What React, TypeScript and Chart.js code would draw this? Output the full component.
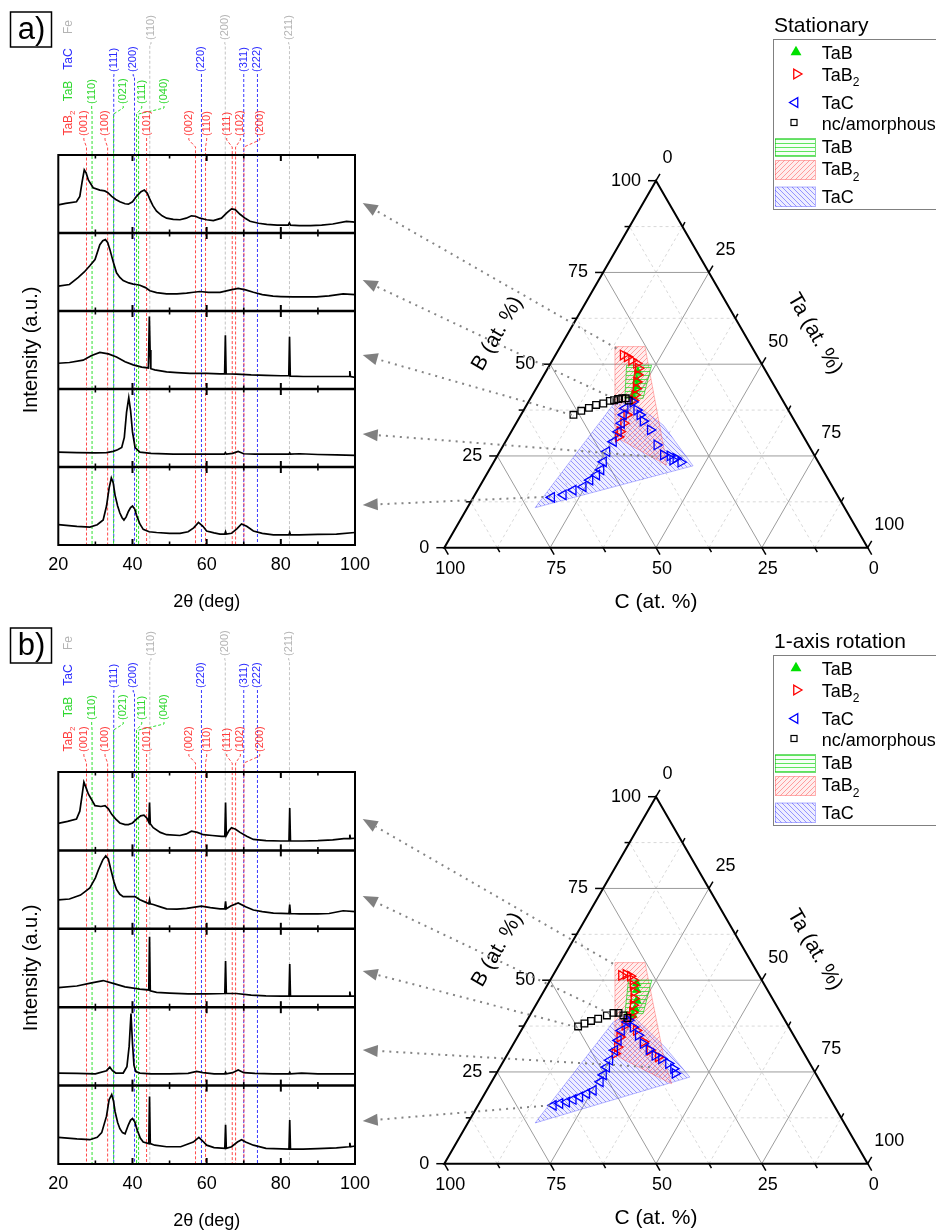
import React, { useEffect, useRef } from 'react';
import { Chart, registerables } from 'chart.js';
Chart.register(...registerables);

const FF = '"Liberation Sans", Arial, Helvetica, sans-serif';
const SQ3 = Math.sqrt(3) / 2;

// ---------- XRD axis ----------
const xrdTickLabels = [20, 40, 60, 80, 100];
const xrdMinorTicks = [30, 50, 70, 90];

// ---------- reference reflections ----------
const feLines = [44.67, 65.02, 82.33];
const feLabelPos = [45.0, 64.9, 82.1];
const feHkl = ['(110)', '(200)', '(211)'];
const tacLines = [34.95, 40.55, 58.6, 70.0, 73.7];
const tacLabelPos = [35.0, 40.2, 58.6, 70.0, 73.7];
const tacHkl = ['(111)', '(200)', '(220)', '(311)', '(222)'];
const tabLines = [29.1, 34.9, 41.1, 41.65];
const tabLabelPos = [29.0, 37.5, 42.5, 48.5];
const tabHkl = ['(110)', '(021)', '(111)', '(040)'];
const tab2Lines = [27.6, 33.3, 43.8, 57.0, 59.7, 66.9, 67.8, 70.05];
const tab2LabelPos = [26.9, 32.6, 43.8, 55.2, 60.0, 65.4, 69.1, 74.3];
const tab2Hkl = ['(001)', '(100)', '(101)', '(002)', '(110)', '(111)', '(102)', '(200)'];

// ---------- XRD patterns, panel a (stationary) ----------
const a1_tt = [20, 22, 24.9, 25.8, 26.4, 27.0, 27.5, 28.1, 29.4, 31.2, 32.5, 33.3, 34.4, 35.5, 36.6, 38.0, 38.9, 40.0, 41.1, 42.3, 43.2, 44.0, 44.7, 45.5, 46.5, 48.0, 49.2, 51.0, 52.8, 54.5, 55.9, 57.0, 58.2, 60.0, 61.8, 64.0, 65.5, 66.7, 67.7, 69.0, 70.5, 71.7, 74.0, 76.2, 79.0, 82.0, 82.3, 82.6, 85.0, 88.0, 91.0, 94.0, 97.7, 100];
const a1_I = [36, 38, 40, 47, 65, 81, 77, 68, 58, 55, 54, 52, 47, 43, 40, 37.5, 37, 40, 47, 53, 55, 51, 43, 35, 28, 22, 19, 17.5, 17, 19, 22, 21.5, 19, 17, 16, 19, 26, 31, 30, 24, 18.5, 15, 12.5, 11, 10, 10, 13, 10, 9.5, 9.5, 10, 11.5, 15, 14];
const a2_tt = [20, 23, 25.4, 27.0, 28.5, 29.9, 31.2, 32.0, 32.7, 33.3, 33.9, 34.8, 35.7, 36.6, 37.5, 39.0, 40.2, 41.0, 42.0, 43.5, 44.7, 46.5, 49.2, 52, 54.6, 56.5, 58.2, 60.5, 63.6, 66.5, 68.5, 70.5, 72.6, 75, 77.9, 80, 83.3, 86.5, 89.6, 93, 96.8, 100];
const a2_I = [32, 34, 43, 50, 58, 66, 85, 90, 91.5, 88, 79, 63, 49, 43, 39, 36, 34.5, 34, 33, 30, 26, 23.5, 22, 22, 23, 24, 25, 24, 24, 27, 29, 27, 24, 21, 19, 18.5, 18, 18, 18, 19.5, 22, 21];
const a3_tt = [20, 23, 26.7, 29, 31.2, 33.5, 35.7, 38, 40.2, 42.5, 44.3, 44.55, 44.75, 44.95, 46, 49.2, 52, 55.5, 60, 63.6, 64.85, 65.05, 65.25, 68, 72, 76, 80, 82.15, 82.35, 82.55, 86, 90, 95, 98.4, 98.6, 98.8, 100];
const a3_I = [33, 34, 37, 43, 47, 45, 41, 35, 31, 28, 27, 93, 50, 26, 24.5, 22, 21, 20, 20, 19.5, 19.5, 69, 19.5, 19, 18, 17.5, 17, 17, 67, 16.5, 16, 16, 16, 16, 23, 16, 15];
const a4_tt = [20, 25, 30, 33, 34.8, 36, 37.1, 37.8, 38.4, 39.0, 39.5, 40.0, 40.7, 42, 45, 51, 58, 64.8, 65.05, 65.3, 67, 68.5, 70.0, 73, 80, 82.2, 82.4, 82.6, 85.1, 90, 95, 100];
const a4_I = [19, 18.5, 18, 18.5, 20, 22, 25, 38, 70, 89, 72, 45, 25, 19, 17.5, 16.5, 16.5, 16.5, 18.5, 16.5, 17.5, 20, 17, 16.5, 16.5, 16.5, 18, 16.5, 17, 16, 15.5, 15];
const a5_tt = [20, 25, 28.5, 30.5, 32.1, 33.0, 33.7, 34.3, 34.8, 35.3, 36.0, 36.6, 37.2, 37.7, 38.3, 38.9, 39.5, 40.0, 40.6, 41.1, 42.0, 42.9, 44.5, 46.5, 50, 52.8, 55.0, 56.5, 57.8, 59.0, 60.0, 62, 63.6, 64.9, 65.1, 65.3, 66.7, 68.2, 69.4, 70.8, 72.6, 75, 78, 82.2, 82.4, 82.6, 85, 90, 95, 100];
const a5_I = [26, 24, 23, 26, 32, 50, 73, 86, 80, 64, 50, 41, 35, 32, 36, 43, 48, 50, 46, 38, 27, 20, 17, 16, 15, 15, 17, 22, 29, 24, 18, 15.5, 14, 14, 17, 14, 15, 21, 27, 24, 18, 15, 13, 13, 16, 13, 13, 13.5, 14, 16];

// ---------- XRD patterns, panel b (1-axis rotation) ----------
const b1_tt = [20, 22.5, 24.9, 25.8, 26.4, 26.9, 27.4, 28.1, 29.9, 31.5, 32.6, 33.5, 34.4, 35.5, 36.6, 38, 38.9, 40, 41.1, 42.2, 43.1, 43.9, 44.4, 44.6, 44.8, 45.6, 47.5, 49.2, 52.8, 54.5, 55.9, 57.5, 59.1, 61.5, 64.0, 64.9, 65.1, 65.3, 66.0, 66.7, 67.8, 69.0, 70.8, 72.6, 76, 80, 82.2, 82.4, 82.6, 86, 90, 94, 97, 98.4, 98.6, 98.8, 100];
const b1_I = [34.5, 37, 40, 50, 70, 87, 81, 72, 57, 56, 57, 53, 46, 40, 35, 33, 33, 35, 40, 44, 45, 41, 36, 61, 34, 29, 23, 20, 19, 21, 24.5, 23, 20, 19, 18, 18, 61, 19, 25, 29, 27, 23, 18, 14, 12.5, 12, 12, 54, 12, 12, 12.5, 13.5, 15, 15, 20, 15, 15.5];
const b2_tt = [20, 23, 26, 28.5, 30.0, 30.8, 32.0, 32.8, 33.5, 34.1, 35.0, 35.7, 36.6, 37.5, 39.0, 40.7, 42.0, 43.5, 44.4, 44.6, 44.8, 45.6, 47.5, 49.2, 52, 54.6, 58.6, 61, 63.6, 64.9, 65.1, 65.3, 66.5, 68.5, 70.5, 72.6, 75, 78, 82.2, 82.4, 82.6, 85, 90, 93, 96.8, 100];
const b2_I = [37, 38, 43, 52, 65, 75, 88, 93, 89, 77, 60, 50, 44, 41, 41, 41, 37, 34, 32, 37, 32, 31, 28, 25.5, 25, 26, 29, 27, 25.5, 25.5, 35, 25.5, 29, 33, 28, 24, 22, 20, 19.5, 31, 19.5, 19, 19, 19.5, 23, 22];
const b3_tt = [20, 25, 29, 32.1, 35, 38, 42, 44.4, 44.6, 44.8, 46.5, 50, 55, 60, 64.9, 65.1, 65.3, 68, 72, 76, 80, 82.2, 82.4, 82.6, 86, 90, 95, 98.4, 98.6, 98.8, 100];
const b3_I = [25, 27, 31, 34, 30, 26, 23, 22, 90, 21, 19, 18, 17, 17, 17.5, 59, 17.5, 17.5, 15.5, 14.5, 14, 14, 55, 14, 14, 14, 14, 14, 20, 14, 14];
const b4_tt = [20, 25, 30, 33.0, 33.9, 34.6, 35.5, 37.5, 38.5, 39.1, 39.6, 40.0, 40.4, 40.9, 42, 45, 50, 55, 57.3, 59, 62, 64.9, 65.1, 65.3, 67, 68.5, 70, 73, 78, 82.2, 82.4, 82.6, 85.6, 90, 95, 100];
const b4_I = [16, 15.5, 15, 19, 23.5, 19, 16, 16, 24, 50, 92, 54, 26, 18, 16, 15, 15, 15.5, 18, 16.5, 15, 15, 17, 15, 16.5, 20, 16.5, 15.5, 15, 15, 17, 15, 16, 15, 15, 15];
const b5_tt = [20, 25, 28.5, 30.5, 31.7, 33.0, 33.7, 34.4, 34.9, 35.3, 36.0, 36.6, 37.3, 38.0, 38.9, 39.5, 40.0, 40.6, 41.3, 42.1, 42.9, 44.4, 44.6, 44.8, 46, 49.2, 53, 56.4, 57.9, 59, 60, 62, 64.9, 65.1, 65.3, 66.7, 68.3, 69.4, 70.5, 72.6, 76, 82.2, 82.4, 82.6, 86, 90, 95, 98.4, 98.6, 98.8, 100];
const b5_I = [34, 32, 31, 34, 40, 61, 82, 88.5, 80, 67, 53, 45, 40, 38.5, 50, 56, 58, 54, 43, 33, 28, 26, 86, 26, 24, 22, 22, 28, 34, 29, 24, 21, 20, 50, 20, 22, 28, 31, 28, 24, 20, 19, 56, 19, 19, 19.5, 20.5, 22, 27, 22, 23];

// ---------- ternary: compositions (B at.%, Ta at.%; C = 100 - B - Ta) ----------
const ternaryTicks = [0, 25, 50, 75, 100];
const ternaryGrid = [12.5, 25, 37.5, 50, 62.5, 75, 87.5];

// panel a
const tabA_B = [47.9, 45.7, 43.9, 42.5, 41.1];
const tabA_Ta = [21.8, 22.6, 23.5, 23.7, 24.0];
const tab2A_B = [52.5, 52.0, 51.1, 50.2, 48.9, 47.1, 45.2, 43.4, 41.6, 40.2, 36.2, 33.9, 31.6, 30.2];
const tab2A_Ta = [16.0, 17.2, 18.7, 20.3, 21.4, 22.1, 22.8, 23.6, 24.2, 24.5, 25.0, 25.4, 25.7, 26.0];
const tacLeftA_B = [38.0, 36.2, 33.9, 31.6, 28.9, 26.2, 23.4, 21.2, 19.8, 18.4, 16.6, 15.7, 14.4, 13.7];
const tacLeftA_Ta = [23.7, 24.2, 24.9, 25.3, 25.5, 25.3, 25.9, 26.4, 26.1, 25.2, 24.5, 22.6, 20.9, 18.5];
const tacRightA_B = [39.7, 37.5, 36.2, 34.5, 32.1, 28.0, 25.3, 25.0, 24.4, 23.9, 23.3];
const tacRightA_Ta = [24.7, 26.7, 28.1, 29.7, 32.6, 36.2, 39.1, 40.8, 42.5, 42.0, 44.2];
const ncA_B = [36.2, 37.3, 38.1, 38.9, 39.3, 40.0, 40.2, 40.5, 40.7, 40.7, 40.1];
const ncA_Ta = [12.4, 13.7, 15.1, 16.4, 17.9, 19.1, 20.0, 20.8, 21.7, 22.5, 23.5];
const regTabA_B = [49.7, 49.7, 40.7, 40.7];
const regTabA_Ta = [18.2, 24.1, 26.6, 22.3];
const regTab2A_B = [54.8, 54.8, 25.3, 22.5, 29.8, 33.4];
const regTab2A_Ta = [12.9, 20.0, 39.5, 41.2, 26.2, 23.5];
const regTacA_B = [10.9, 38.9, 40.2, 33.4, 22.3];
const regTacA_Ta = [16.0, 20.4, 23.8, 35.0, 47.6];
const arrowA_B = [54.3, 40.7, 36.2, 24.8, 13.9];
const arrowA_Ta = [13.5, 19.6, 12.0, 36.9, 18.1];

// panel b
const tabB_B = [49.1, 47.3, 44.5, 42.3, 40.5];
const tabB_Ta = [20.9, 21.8, 23.2, 23.9, 24.3];
const tab2B_B = [51.3, 51.6, 51.1, 50.0, 48.6, 46.8, 45.0, 43.2, 41.3, 40.0, 37.7, 34.5, 31.8, 30.0, 36.3, 33.2, 30.9, 29.1];
const tab2B_Ta = [16.2, 17.1, 18.4, 19.6, 20.3, 21.4, 22.3, 23.0, 23.8, 24.0, 23.8, 24.2, 25.0, 25.3, 27.2, 30.4, 33.1, 36.0];
const tacLeftB_B = [38.6, 36.3, 33.6, 30.9, 28.2, 26.3, 24.2, 22.3, 20.0, 19.1, 18.2, 17.5, 16.8, 16.4, 15.9];
const tacLeftB_Ta = [23.9, 23.7, 24.3, 24.8, 25.0, 25.2, 25.5, 25.7, 25.2, 24.1, 22.9, 21.7, 20.5, 19.1, 17.8];
const tacRightB_B = [39.1, 37.2, 35.0, 32.7, 31.1, 29.5, 28.6, 27.3, 25.9, 24.6];
const tacRightB_Ta = [24.0, 26.0, 28.3, 30.6, 32.8, 35.0, 37.0, 39.3, 41.2, 42.2];
const ncB_B = [37.4, 38.2, 38.9, 39.5, 40.4, 41.1, 41.1, 40.4, 39.7];
const ncB_Ta = [12.9, 14.0, 15.2, 16.6, 18.2, 19.4, 20.6, 22.1, 23.4];
const regTabB_B = [50.0, 50.0, 40.9, 40.9];
const regTabB_Ta = [18.5, 24.0, 26.5, 22.2];
const regTab2B_B = [54.8, 54.8, 27.3, 21.8, 29.1, 35.4];
const regTab2B_Ta = [12.9, 20.0, 38.5, 42.8, 26.6, 22.5];
const regTacB_B = [11.1, 38.6, 40.9, 31.8, 23.6];
const regTacB_Ta = [15.9, 20.6, 23.5, 36.2, 46.2];
const arrowB_B = [54.5, 40.9, 37.2, 26.3, 15.9];
const arrowB_Ta = [12.6, 18.6, 12.7, 35.4, 17.0];

const arrowTipY = [203, 280, 355, 434, 505];

// ---------- helpers ----------
const tern = (B: number[], Ta: number[]) => B.map((b, i) => ({ x: Ta[i] + b / 2, y: b * SQ3 }));
const closed = (pts: any[]) => [...pts, pts[0]];

function hatch(ctx: CanvasRenderingContext2D, kind: string, line: string, fill: string, s: number) {
  const c = document.createElement('canvas');
  c.width = s; c.height = s;
  const g = c.getContext('2d')!;
  g.fillStyle = fill; g.fillRect(0, 0, s, s);
  g.strokeStyle = line; g.lineWidth = 1;
  g.beginPath();
  if (kind === 'h') { g.moveTo(0, s - 0.5); g.lineTo(s, s - 0.5); }
  else if (kind === '/') { g.moveTo(0, s); g.lineTo(s, 0); g.moveTo(-1, 1); g.lineTo(1, -1); g.moveTo(s - 1, s + 1); g.lineTo(s + 1, s - 1); }
  else { g.moveTo(0, 0); g.lineTo(s, s); g.moveTo(-1, s - 1); g.lineTo(1, s + 1); g.moveTo(s - 1, -1); g.lineTo(s + 1, 1); }
  g.stroke();
  return ctx.createPattern(c, 'repeat')!;
}

function subText(ctx: CanvasRenderingContext2D, main: string, sub: string, x: number, y: number, size: number) {
  ctx.font = `${size}px ${FF}`;
  ctx.fillText(main, x, y);
  const w = ctx.measureText(main).width;
  ctx.font = `${Math.round(size * 0.65)}px ${FF}`;
  ctx.fillText(sub, x + w, y + size * 0.33);
}

const refGroups = [
  { name: 'Fe', sub: '', lines: feLines, pos: feLabelPos, hkl: feHkl, line: '#c4c4c4', text: '#b4b4b4', bottom: 40, knee: 44, rowY: 27 },
  { name: 'TaC', sub: '', lines: tacLines, pos: tacLabelPos, hkl: tacHkl, line: '#3a3aff', text: '#2a2aff', bottom: 72, knee: 76, rowY: 59 },
  { name: 'TaB', sub: '', lines: tabLines, pos: tabLabelPos, hkl: tabHkl, line: '#2ee02e', text: '#2ed82e', bottom: 104, knee: 114, rowY: 91 },
  { name: 'TaB', sub: '2', lines: tab2Lines, pos: tab2LabelPos, hkl: tab2Hkl, line: '#ff4a4a', text: '#ff3c3c', bottom: 136, knee: 147, rowY: 123 },
];

function xrdPlugin(letter: string) {
  return {
    id: 'xrdDecor',
    beforeDatasetsDraw(chart: any) {
      const { ctx, chartArea: ca } = chart;
      const xs = chart.scales.x;
      ctx.save();
      ctx.lineWidth = 1;
      ctx.setLineDash([3, 2]);
      refGroups.forEach((g) => {
        ctx.strokeStyle = g.line;
        g.lines.forEach((t, k) => {
          const xl = xs.getPixelForValue(t);
          const xt = xs.getPixelForValue(g.pos[k]);
          ctx.beginPath();
          ctx.moveTo(xt, g.bottom + 2);
          ctx.lineTo(xt, g.bottom + 4);
          ctx.lineTo(xl, g.knee);
          ctx.lineTo(xl, ca.bottom);
          ctx.stroke();
        });
      });
      ctx.setLineDash([]);
      ctx.textBaseline = 'middle';
      refGroups.forEach((g) => {
        ctx.fillStyle = g.text;
        ctx.font = `11px ${FF}`;
        g.hkl.forEach((h, k) => {
          const xt = xs.getPixelForValue(g.pos[k]);
          ctx.save();
          ctx.translate(xt, g.bottom);
          ctx.rotate(-Math.PI / 2);
          ctx.textAlign = 'left';
          ctx.fillText(h, 0, 0);
          ctx.restore();
        });
        ctx.save();
        ctx.translate(68.5, g.rowY);
        ctx.rotate(-Math.PI / 2);
        ctx.textAlign = 'left';
        ctx.font = `12px ${FF}`;
        const w1 = ctx.measureText(g.name).width;
        ctx.font = `8px ${FF}`;
        const w2 = g.sub ? ctx.measureText(g.sub).width : 0;
        const st = -(w1 + w2) / 2;
        ctx.font = `12px ${FF}`;
        ctx.fillText(g.name, st, 0);
        if (g.sub) { ctx.font = `8px ${FF}`; ctx.fillText(g.sub, st + w1, 4); }
        ctx.restore();
      });
      ctx.restore();
    },
    afterDatasetsDraw(chart: any) {
      const { ctx, chartArea: ca } = chart;
      const xs = chart.scales.x, ys = chart.scales.y;
      ctx.save();
      ctx.strokeStyle = '#000';
      ctx.lineWidth = 2;
      ctx.strokeRect(ca.left, ca.top, ca.right - ca.left, ca.bottom - ca.top);
      const edges = [0, 100, 200, 300, 400, 500];
      edges.forEach((e) => {
        const py = ys.getPixelForValue(e);
        if (e > 0 && e < 500) {
          ctx.lineWidth = 2.5;
          ctx.beginPath(); ctx.moveTo(ca.left, py); ctx.lineTo(ca.right, py); ctx.stroke();
        }
        const ticks = [...xrdTickLabels.slice(1, -1).map((v) => [v, 6]), ...xrdMinorTicks.map((v) => [v, 3.5])];
        ticks.forEach(([v, len]) => {
          const px = xs.getPixelForValue(v);
          ctx.lineWidth = len > 4 ? 2 : 1.6;
          ctx.beginPath();
          ctx.moveTo(px, e < 500 ? py - len : py);
          ctx.lineTo(px, e > 0 ? py + len : py);
          ctx.stroke();
        });
      });
      ctx.fillStyle = '#000';
      ctx.font = `18px ${FF}`;
      ctx.textAlign = 'center';
      ctx.textBaseline = 'middle';
      xrdTickLabels.forEach((v) => ctx.fillText(String(v), xs.getPixelForValue(v), ca.bottom + 20));
      ctx.fillText('2θ (deg)', (ca.left + ca.right) / 2, ca.bottom + 57);
      ctx.save();
      ctx.translate(31, (ca.top + ca.bottom) / 2);
      ctx.rotate(-Math.PI / 2);
      ctx.font = `20px ${FF}`;
      ctx.fillText('Intensity (a.u.)', 0, 0);
      ctx.restore();
      ctx.lineWidth = 1.5;
      ctx.strokeRect(10.5, 12, 41, 35);
      ctx.font = `31px ${FF}`;
      ctx.fillText(letter, 31.5, 30.5);
      ctx.restore();
    },
  };
}

function ternaryPlugin(panel: any) {
  return {
    id: 'ternaryDecor',
    beforeDatasetsDraw(chart: any) {
      const { ctx } = chart;
      const xs = chart.scales.x, ys = chart.scales.y;
      const P = (B: number, Ta: number) => ({ x: xs.getPixelForValue(Ta + B / 2), y: ys.getPixelForValue(B * SQ3) });
      ctx.save();
      const seg = (a: any, b: any) => { ctx.beginPath(); ctx.moveTo(a.x, a.y); ctx.lineTo(b.x, b.y); ctx.stroke(); };
      [false, true].forEach((majorPass) => {
        ternaryGrid.forEach((v) => {
          const major = v % 25 === 0;
          if (major !== majorPass) return;
          ctx.strokeStyle = major ? '#9c9c9c' : '#d9d9d9';
          ctx.setLineDash(major ? [] : [3, 3]);
          ctx.lineWidth = 1;
          seg(P(v, 0), P(v, 100 - v));
          seg(P(0, v), P(100 - v, v));
          seg(P(0, 100 - v), P(100 - v, 0));
        });
      });
      ctx.setLineDash([]);
      ctx.strokeStyle = '#000';
      ctx.lineWidth = 2;
      const A = P(0, 0), T = P(100, 0), R = P(0, 100);
      ctx.beginPath(); ctx.moveTo(A.x, A.y); ctx.lineTo(T.x, T.y); ctx.lineTo(R.x, R.y); ctx.closePath(); ctx.stroke();
      ctx.lineWidth = 1.5;
      for (let v = 0; v <= 100; v += 12.5) {
        const len = v % 25 === 0 ? 8 : 5;
        const pb = P(v, 0);
        seg(pb, { x: pb.x - len, y: pb.y });
        const pc = P(0, 100 - v);
        seg(pc, { x: pc.x + len * 0.5, y: pc.y + len * SQ3 });
        const pt = P(100 - v, v);
        seg(pt, { x: pt.x + len * 0.5, y: pt.y - len * SQ3 });
      }
      ctx.fillStyle = '#000';
      ctx.font = `18px ${FF}`;
      ctx.textBaseline = 'middle';
      ternaryTicks.forEach((v) => {
        const pb = P(v, 0);
        ctx.textAlign = 'right';
        ctx.fillText(String(v), pb.x - 15, pb.y);
        const pc = P(0, 100 - v);
        ctx.textAlign = 'center';
        ctx.fillText(String(v), pc.x + 6, pc.y + 21);
        const pt = P(100 - v, v);
        ctx.textAlign = 'left';
        ctx.fillText(String(v), pt.x + 6.5, pt.y - 22.5);
      });
      ctx.font = `21px ${FF}`;
      ctx.textAlign = 'center';
      const mb = P(50, 0);
      ctx.save(); ctx.translate(mb.x - 61 * SQ3, mb.y - 30.5); ctx.rotate(-Math.PI / 3); ctx.fillText('B (at. %)', 0, 0); ctx.restore();
      const mt = P(50, 50);
      ctx.save(); ctx.translate(mt.x + 61 * SQ3, mt.y - 30.5); ctx.rotate(Math.PI / 3); ctx.fillText('Ta (at. %)', 0, 0); ctx.restore();
      const mc = P(0, 50);
      ctx.fillText('C (at. %)', mc.x, mc.y + 55);
      ctx.restore();
    },
    afterDatasetsDraw(chart: any) {
      const { ctx } = chart;
      const xs = chart.scales.x, ys = chart.scales.y;
      ctx.save();
      panel.arrowB.forEach((b: number, i: number) => {
        const ta = panel.arrowTa[i];
        const sx = xs.getPixelForValue(ta + b / 2), sy = ys.getPixelForValue(b * SQ3);
        const tx = 362.7 - 340, ty = arrowTipY[i];
        const dx = tx - sx, dy = ty - sy, L = Math.hypot(dx, dy);
        const ux = dx / L, uy = dy / L;
        const bx = tx - ux * 15, by = ty - uy * 15;
        ctx.strokeStyle = '#858585';
        ctx.lineWidth = 2;
        ctx.setLineDash([2, 5]);
        ctx.beginPath(); ctx.moveTo(sx, sy); ctx.lineTo(bx, by); ctx.stroke();
        ctx.setLineDash([]);
        ctx.fillStyle = '#808080';
        ctx.beginPath();
        ctx.moveTo(tx, ty);
        ctx.lineTo(bx - uy * 6, by + ux * 6);
        ctx.lineTo(bx + uy * 6, by - ux * 6);
        ctx.closePath(); ctx.fill();
      });
      ctx.restore();
    },
    afterDraw(chart: any) {
      const { ctx } = chart;
      const ox = -340;
      ctx.save();
      ctx.fillStyle = '#000';
      ctx.textAlign = 'left';
      ctx.textBaseline = 'alphabetic';
      ctx.font = `21px ${FF}`;
      ctx.fillText(panel.title, 774 + ox, 32);
      ctx.strokeStyle = '#808080';
      ctx.lineWidth = 1;
      ctx.strokeRect(773.5 + ox, 39.5, 200, 170);
      const tx = 821.7 + ox;
      const tri = (cx: number, cy: number, r: number, rot: number) => {
        ctx.beginPath();
        for (let k = 0; k < 3; k++) {
          const a = (rot + k * 120) * Math.PI / 180;
          const px = cx + Math.sin(a) * r, py = cy - Math.cos(a) * r;
          if (k === 0) ctx.moveTo(px, py); else ctx.lineTo(px, py);
        }
        ctx.closePath();
      };
      ctx.fillStyle = '#00e000';
      tri(796 + ox, 52, 6.3, 0); ctx.fill();
      ctx.strokeStyle = '#ff0000'; ctx.lineWidth = 1.3;
      tri(796.5 + ox, 74, 5.5, 90); ctx.stroke();
      ctx.strokeStyle = '#0000ff';
      tri(795 + ox, 102.5, 5.5, -90); ctx.stroke();
      ctx.strokeStyle = '#000'; ctx.lineWidth = 1.2;
      ctx.strokeRect(791 + ox, 119.5, 6, 6);
      ctx.fillStyle = '#000';
      ctx.font = `18px ${FF}`;
      ctx.fillText('TaB', tx, 59);
      subText(ctx, 'TaB', '2', tx, 80.5, 18);
      ctx.font = `18px ${FF}`;
      ctx.fillText('TaC', tx, 109);
      ctx.fillText('nc/amorphous', tx, 130);
      const patches = [
        { y: 138.5, h: 18, pat: panel.patG, stroke: 'rgba(0,190,0,0.55)', base: 153, sub: '', name: 'TaB' },
        { y: 160.5, h: 19, pat: panel.patR, stroke: 'rgba(255,0,0,0.3)', base: 175, sub: '2', name: 'TaB' },
        { y: 187, h: 19.5, pat: panel.patB, stroke: 'rgba(0,0,255,0.3)', base: 203, sub: '', name: 'TaC' },
      ];
      patches.forEach((p) => {
        ctx.fillStyle = p.pat;
        ctx.fillRect(775 + ox, p.y, 40, p.h);
        ctx.strokeStyle = p.stroke; ctx.lineWidth = 1;
        ctx.strokeRect(775.5 + ox, p.y, 40, p.h);
        ctx.fillStyle = '#000';
        if (p.sub) subText(ctx, p.name, p.sub, tx, p.base, 18);
        else { ctx.font = `18px ${FF}`; ctx.fillText(p.name, tx, p.base); }
      });
      ctx.restore();
    },
  };
}

function makeXrd(canvas: HTMLCanvasElement, curves: number[][][], top: number, bottom: number, letter: string) {
  const datasets = curves.map(([tt, I], i) => ({
    data: tt.map((t, j) => ({ x: t, y: I[j] + (4 - i) * 100 })),
    borderColor: '#000',
    borderWidth: 1.7,
    pointRadius: 0,
    tension: 0,
    fill: false,
  }));
  return new Chart(canvas, {
    type: 'line',
    data: { datasets },
    options: {
      animation: false,
      responsive: false,
      maintainAspectRatio: false,
      layout: { padding: { left: 58.3, right: 20, top, bottom: 615 - bottom } },
      scales: {
        x: { type: 'linear', min: 20, max: 100, display: false },
        y: { type: 'linear', min: 0, max: 500, display: false },
      },
      plugins: { legend: { display: false }, tooltip: { enabled: false } },
    },
    plugins: [xrdPlugin(letter)],
  } as any);
}

function makeTernary(canvas: HTMLCanvasElement, d: any) {
  const ctx = canvas.getContext('2d')!;
  const patG = hatch(ctx, 'h', 'rgba(40,220,40,0.75)', 'rgba(0,255,0,0.04)', 4);
  const patR = hatch(ctx, '/', 'rgba(255,90,90,0.55)', 'rgba(255,80,80,0.10)', 5);
  const patB = hatch(ctx, '\\', 'rgba(90,90,255,0.6)', 'rgba(90,90,255,0.10)', 5);
  const panel = { ...d, patG, patR, patB };
  const marker = (data: any, style: string, rot: number, color: string, fillc: string, r: number) => ({
    data, showLine: false, pointStyle: style, pointRotation: rot, pointRadius: r,
    pointBorderColor: color, pointBackgroundColor: fillc, pointBorderWidth: 1.3, order: 0,
  });
  const region = (data: any, pat: any, border: string) => ({
    data: closed(data), showLine: true, pointRadius: 0, borderColor: border, borderWidth: 1,
    backgroundColor: pat, fill: 'shape', tension: 0, order: 10,
  });
  const datasets = [
    marker(tern(d.ncB, d.ncTa), 'rect', 0, '#000', 'rgba(0,0,0,0)', 4.7),
    marker(tern(d.tacLB, d.tacLTa), 'triangle', -90, '#0000ff', 'rgba(0,0,0,0)', 5.5),
    marker(tern(d.tacRB, d.tacRTa), 'triangle', 90, '#0000ff', 'rgba(0,0,0,0)', 5.5),
    marker(tern(d.tab2B, d.tab2Ta), 'triangle', 90, '#ff0000', 'rgba(0,0,0,0)', 5.5),
    marker(tern(d.tabB, d.tabTa), 'triangle', 0, '#00dd00', '#00e000', 4.2),
    region(tern(d.regTabB, d.regTabTa), patG, 'rgba(0,200,0,0.6)'),
    region(tern(d.regTab2B, d.regTab2Ta), patR, 'rgba(255,60,60,0.35)'),
    region(tern(d.regTacB, d.regTacTa), patB, 'rgba(60,60,255,0.35)'),
  ];
  return new Chart(canvas, {
    type: 'scatter',
    data: { datasets },
    options: {
      animation: false,
      responsive: false,
      maintainAspectRatio: false,
      layout: { padding: { left: 104.3, right: 68.3, top: 180.7, bottom: 67.3 } },
      scales: {
        x: { type: 'linear', min: 0, max: 100, display: false },
        y: { type: 'linear', min: 0, max: 100 * SQ3, display: false },
      },
      plugins: { legend: { display: false }, tooltip: { enabled: false } },
    },
    plugins: [ternaryPlugin(panel)],
  } as any);
}

const panelA = {
  title: 'Stationary',
  tabB: tabA_B, tabTa: tabA_Ta, tab2B: tab2A_B, tab2Ta: tab2A_Ta,
  tacLB: tacLeftA_B, tacLTa: tacLeftA_Ta, tacRB: tacRightA_B, tacRTa: tacRightA_Ta,
  ncB: ncA_B, ncTa: ncA_Ta,
  regTabB: regTabA_B, regTabTa: regTabA_Ta, regTab2B: regTab2A_B, regTab2Ta: regTab2A_Ta,
  regTacB: regTacA_B, regTacTa: regTacA_Ta, arrowB: arrowA_B, arrowTa: arrowA_Ta,
};
const panelB = {
  title: '1-axis rotation',
  tabB: tabB_B, tabTa: tabB_Ta, tab2B: tab2B_B, tab2Ta: tab2B_Ta,
  tacLB: tacLeftB_B, tacLTa: tacLeftB_Ta, tacRB: tacRightB_B, tacRTa: tacRightB_Ta,
  ncB: ncB_B, ncTa: ncB_Ta,
  regTabB: regTabB_B, regTabTa: regTabB_Ta, regTab2B: regTab2B_B, regTab2Ta: regTab2B_Ta,
  regTacB: regTacB_B, regTacTa: regTacB_Ta, arrowB: arrowB_B, arrowTa: arrowB_Ta,
};

export default function App() {
  const xa = useRef<HTMLCanvasElement>(null);
  const ta = useRef<HTMLCanvasElement>(null);
  const xb = useRef<HTMLCanvasElement>(null);
  const tb = useRef<HTMLCanvasElement>(null);
  useEffect(() => {
    const charts = [
      makeXrd(xa.current!, [[a1_tt, a1_I], [a2_tt, a2_I], [a3_tt, a3_I], [a4_tt, a4_I], [a5_tt, a5_I]], 155, 545, 'a)'),
      makeTernary(ta.current!, panelA),
      makeXrd(xb.current!, [[b1_tt, b1_I], [b2_tt, b2_I], [b3_tt, b3_I], [b4_tt, b4_I], [b5_tt, b5_I]], 156, 548, 'b)'),
      makeTernary(tb.current!, panelB),
    ];
    return () => charts.forEach((c) => c.destroy());
  }, []);
  const abs = (left: number, top: number, w: number, h: number): React.CSSProperties => ({ position: 'absolute', left, top, width: w, height: h });
  return (
    <div style={{ position: 'absolute', left: 0, top: 0, width: 936, height: 1231, background: '#fff', overflow: 'hidden' }}>
      <canvas ref={xa} width={375} height={615} style={abs(0, 0, 375, 615)} />
      <canvas ref={ta} width={596} height={615} style={abs(340, 0, 596, 615)} />
      <canvas ref={xb} width={375} height={615} style={abs(0, 616, 375, 615)} />
      <canvas ref={tb} width={596} height={615} style={abs(340, 616, 596, 615)} />
    </div>
  );
}
